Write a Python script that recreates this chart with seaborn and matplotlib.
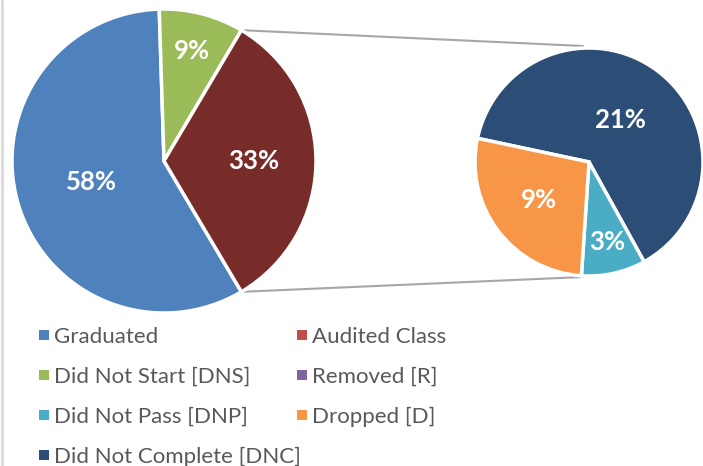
import numpy as np
import seaborn as sns
import matplotlib.pyplot as plt
from matplotlib.lines import Line2D

# values (percent of all students)
main_labels = ["Graduated", "Did Not Start [DNS]"]
main_values = [58, 9]
sub_labels = ["Did Not Complete [DNC]", "Did Not Pass [DNP]", "Dropped [D]"]
sub_values = [21, 3, 9]
zero_labels = ["Audited Class", "Removed [R]"]

colors = {
    "Graduated": "#4F81BD",
    "Audited Class": "#C0504D",
    "Did Not Start [DNS]": "#9BBB59",
    "Removed [R]": "#8064A2",
    "Did Not Pass [DNP]": "#4BACC6",
    "Dropped [D]": "#F79646",
    "Did Not Complete [DNC]": "#2C4D75",
}
other_color = "#772C2A"

sns.set_theme(style="white")
plt.rcParams["font.family"] = ["Lato", "DejaVu Sans"]

total = sum(main_values) + sum(sub_values)
other = sum(sub_values)

fig = plt.figure(figsize=(7.03, 4.66), dpi=100)
ax = fig.add_axes([0, 0, 1, 1])

c1, r1 = (164, 305), 152
c2, r2 = (589, 304), 114

# left pie: Graduated, DNS, then the "other" slice centred on the right
vals1 = main_values + [other]
cols1 = [colors[l] for l in main_labels] + [other_color]
w1, _ = ax.pie(vals1, colors=cols1, center=c1, radius=r1, counterclock=False,
               startangle=-other / total * 180,
               wedgeprops=dict(edgecolor="white", linewidth=2.5))

w2, _ = ax.pie(sub_values, colors=[colors[l] for l in sub_labels], center=c2,
               radius=r2, counterclock=False, startangle=168,
               wedgeprops=dict(edgecolor="white", linewidth=2.5))

ax.set_xlim(0, 703)
ax.set_ylim(0, 466)
ax.set_aspect("equal")
ax.axis("off")


def put_labels(wedges, vals, center, radius, dists):
    for w, v, d in zip(wedges, vals, dists):
        a = np.deg2rad((w.theta1 + w.theta2) / 2)
        ax.text(center[0] + d * radius * np.cos(a), center[1] + d * radius * np.sin(a),
                "%.0f%%" % (v / total * 100), ha="center", va="center",
                color="white", fontsize=18.5, fontweight="bold")


put_labels(w1, vals1, c1, r1, [0.5, 0.75, 0.59])
put_labels(w2, sub_values, c2, r2, [0.46, 0.72, 0.55])

# connector lines from the "other" slice to the second pie
ow = w1[-1]
for th, y2 in [(ow.theta2, c2[1] + r2 + 2), (ow.theta1, c2[1] - r2 - 1)]:
    a = np.deg2rad(th)
    ax.plot([c1[0] + r1 * np.cos(a), c2[0] - 6], [c1[1] + r1 * np.sin(a), y2],
            color="#A6A6A6", lw=1.5, zorder=0)

# legend in two blocks, read row by row like the original
col_a = ["Graduated", "Did Not Start [DNS]", "Did Not Pass [DNP]", "Did Not Complete [DNC]"]
col_b = ["Audited Class", "Removed [R]", "Dropped [D]"]
for i, (names, x0) in enumerate([(col_a, 0.053), (col_b, 0.42)]):
    handles = [Line2D([], [], marker="s", ls="none", markersize=7,
                      markerfacecolor=colors[l], markeredgewidth=0) for l in names]
    leg = ax.legend(handles, names, loc="upper left", bbox_to_anchor=(x0, 0.298),
                    frameon=False, handlelength=0.6, handletextpad=0.15,
                    labelspacing=0.9, borderpad=0, borderaxespad=0,
                    prop=dict(family=["Lato", "DejaVu Sans"], size=16))
    for t in leg.get_texts():
        t.set_color("#595959")
    if i == 0:
        ax.add_artist(leg)

fig.add_artist(Line2D([0.003, 0.003], [0, 1], color="#D9D9D9", lw=2,
                      transform=fig.transFigure))

plt.savefig("out.png", dpi=100)
